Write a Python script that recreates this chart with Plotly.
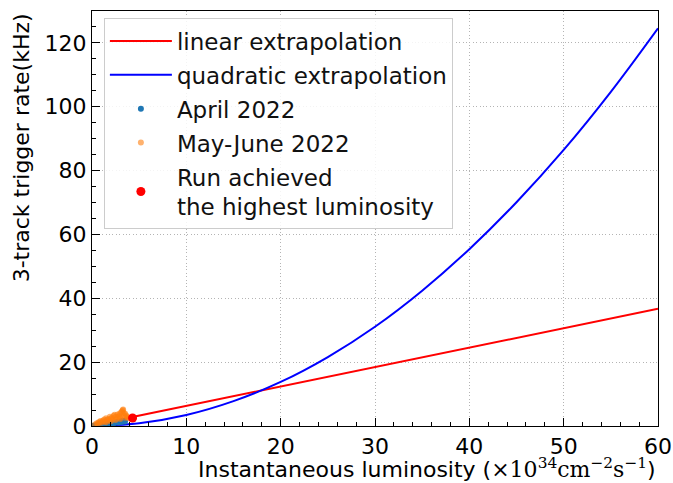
import plotly.graph_objects as go

# Extrapolation curves (luminosity in 1e34 cm^-2 s^-1, rate in kHz)
lin_lumi = [0, 60]
lin_rate = [0.2, 36.7]

quad_lumi = [0, 5, 10, 15, 20, 25, 30, 35, 40, 45, 50, 55, 60]
quad_rate = [0.0, 0.87, 3.46, 7.8, 13.8, 21.6, 31.1, 42.4, 55.4, 70.1, 86.5, 104.7, 124.6]

# Measured runs, April 2022
apr_lumi = [0.15, 0.3, 0.45, 0.6, 0.75, 0.9, 1.05, 1.2, 1.35, 1.5, 1.65, 1.8, 1.95,
            2.1, 2.25, 2.4, 2.55, 2.7, 2.85, 3.0, 3.15, 3.3, 0.5, 1.0, 1.4, 1.9,
            2.3, 2.8, 3.2, 3.5]
apr_rate = [0.05, 0.1, 0.15, 0.2, 0.3, 0.35, 0.4, 0.5, 0.55, 0.6, 0.7, 0.75, 0.85,
            0.9, 1.0, 1.05, 1.15, 1.2, 1.3, 1.35, 1.45, 1.5, 0.25, 0.45, 0.65, 0.8,
            0.95, 1.1, 1.3, 1.4]

# Measured runs, May-June 2022
may_lumi = [0.3, 0.5, 0.7, 0.9, 1.1, 1.3, 1.5, 1.7, 1.9, 2.1, 2.3, 2.5, 2.7, 2.9,
            3.1, 3.3, 3.5, 3.7, 0.6, 1.0, 1.4, 1.8, 2.2, 2.6, 3.0, 3.4, 3.8, 0.8,
            1.2, 1.6, 2.0, 2.4, 2.8, 3.2, 3.6, 3.25, 3.35, 2.95, 4.0, 1.5, 2.0, 2.5,
            3.0, 3.5]
may_rate = [0.5, 0.9, 1.2, 1.6, 1.4, 2.0, 2.4, 2.1, 2.9, 2.6, 3.2, 2.8, 3.6, 3.1,
            4.3, 5.2, 3.9, 3.0, 0.7, 1.0, 1.3, 1.7, 2.0, 2.3, 2.7, 3.3, 2.6, 1.1,
            1.7, 1.9, 2.3, 3.5, 2.9, 4.6, 3.4, 4.9, 4.1, 3.9, 2.4, 1.2, 1.5, 1.9,
            2.2, 2.6]

# Run with the highest luminosity
best_lumi = [4.3]
best_rate = [2.5]

FONT = "DejaVu Sans"
FS = 22
LEG_FS = 23

X_TITLE = ("Instantaneous luminosity (<span style=\"font-family:'DejaVu Serif'\">"
           "×10<sup>34</sup>cm<sup>−2</sup>s<sup>−1</sup></span>)")
Y_TITLE = "3-track trigger rate(kHz)"

fig = go.Figure()
fig.add_trace(go.Scatter(x=lin_lumi, y=lin_rate, mode="lines",
                         line=dict(color="red", width=2),
                         name="linear extrapolation", legendgroup="a"))
fig.add_trace(go.Scatter(x=quad_lumi, y=quad_rate, mode="lines",
                         line=dict(color="blue", width=2, shape="spline"),
                         name="quadratic extrapolation", legendgroup="b"))
fig.add_trace(go.Scatter(x=apr_lumi, y=apr_rate, mode="markers",
                         marker=dict(color="#1f77b4", size=6, line=dict(width=0)),
                         name="April 2022", legendgroup="c"))
fig.add_trace(go.Scatter(x=may_lumi, y=may_rate, mode="markers",
                         marker=dict(color="#ff7f0e", size=6, opacity=0.6,
                                     line=dict(width=0)),
                         name="May-June 2022", legendgroup="d"))
fig.add_trace(go.Scatter(x=best_lumi, y=best_rate, mode="markers",
                         marker=dict(color="red", size=9, line=dict(width=0)),
                         name="Run achieved<br>the highest luminosity", legendgroup="e"))

axis_common = dict(
    showline=True, linecolor="black", linewidth=1.3, mirror=True,
    ticks="inside", ticklen=8, tickwidth=1.2, tickcolor="black",
    showgrid=True, gridcolor="#b4b4b4", griddash="1px,2.4px", gridwidth=1,
    zeroline=False, automargin=False,
    tickfont=dict(family=FONT, size=FS, color="black"),
)

fig.update_xaxes(
    range=[0, 60], dtick=10, tick0=0,
    minor=dict(dtick=2, ticks="inside", ticklen=4, tickcolor="black", showgrid=False),
    **axis_common,
)
fig.update_yaxes(
    range=[0, 130], dtick=20, tick0=0,
    minor=dict(dtick=5, ticks="inside", ticklen=4, tickcolor="black", showgrid=False),
    **axis_common,
)

# Axis titles: x label flush right, y label flush top
fig.add_annotation(text=X_TITLE, xref="paper", yref="paper", x=1.0, y=-0.1,
                   xanchor="right", yanchor="middle", showarrow=False,
                   font=dict(family=FONT, size=FS, color="black"))
fig.add_annotation(text=Y_TITLE, xref="paper", yref="paper", x=-0.124, y=1.0,
                   xanchor="center", yanchor="top", textangle=-90, showarrow=False,
                   font=dict(family=FONT, size=FS, color="black"))

fig.update_layout(
    width=673, height=483,
    margin=dict(l=92, r=15, t=11, b=57),
    paper_bgcolor="white", plot_bgcolor="white",
    font=dict(family=FONT, size=FS, color="black"),
    legend=dict(
        x=0.021, y=0.982, xanchor="left", yanchor="top",
        bgcolor="rgba(255,255,255,0.85)", bordercolor="#cccccc", borderwidth=1,
        font=dict(family=FONT, size=LEG_FS, color="#111111"),
        tracegroupgap=1, itemwidth=62,
    ),
)

fig.write_html("out.html")
